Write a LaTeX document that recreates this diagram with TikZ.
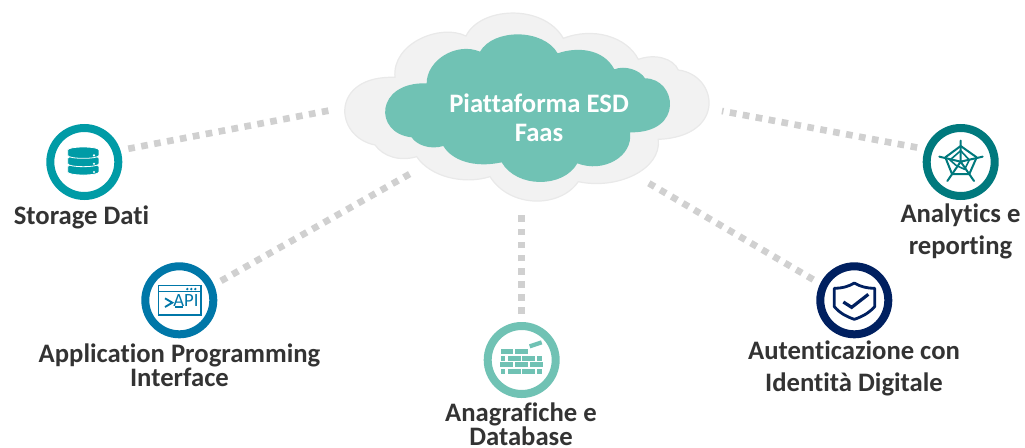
\documentclass[tikz,border=0pt]{standalone}
\usepackage{fontspec}
\setmainfont[Ligatures=NoCommon]{Carlito}
\usetikzlibrary{positioning}
\definecolor{cloudteal}{HTML}{70C2B4}
\definecolor{cloudgray}{HTML}{F2F2F2}
\definecolor{cloudedge}{HTML}{E9E9E9}
\definecolor{linkgray}{HTML}{D0D0D0}
\definecolor{captiongray}{HTML}{333333}
\definecolor{storecol}{HTML}{009BA6}
\definecolor{apicol}{HTML}{0077A8}
\definecolor{analycol}{HTML}{00797D}
\definecolor{authcol}{HTML}{002060}

\begin{document}
\begin{tikzpicture}[x=0.75pt,y=-0.75pt,
  ring/.style={circle,draw=#1,line width=6pt,fill=white,minimum size=51pt,inner sep=0pt},
  caption/.style={font=\fontsize{20pt}{18pt}\selectfont\bfseries,text=captiongray,align=center,inner sep=0pt},
  link/.style={linkgray,line width=5pt,dash pattern=on 5pt off 4.85pt,shorten <=6pt}]
  \useasboundingbox (0,0) rectangle (1025,447);

  % cloud
  \begin{scope}[shift={(330,0)},scale=1/3]
    \path[fill=cloudgray,draw=cloudedge,line width=0.9pt]
      (195,232) .. controls (185,130) and (330,70) .. (408,108)
      .. controls (450,20) and (640,10) .. (700,115)
      .. controls (790,80) and (890,110) .. (925,178)
      .. controls (975,160) and (1030,175) .. (1045,210)
      .. controls (1165,225) and (1190,410) .. (985,418)
      .. controls (995,510) and (860,570) .. (745,545)
      .. controls (690,625) and (540,625) .. (480,530)
      .. controls (400,555) and (300,530) .. (260,470)
      .. controls (210,485) and (160,470) .. (135,435)
      .. controls (10,410) and (0,225) .. (195,232) -- cycle;
    \path[fill=cloudteal]
      (290,250) .. controls (290,180) and (380,125) .. (450,155)
      .. controls (490,85) and (640,85) .. (683,160)
      .. controls (740,140) and (820,145) .. (853,208)
      .. controls (885,195) and (930,210) .. (945,235)
      .. controls (1040,235) and (1065,400) .. (900,397)
      .. controls (910,470) and (820,520) .. (742,490)
      .. controls (700,565) and (560,565) .. (515,487)
      .. controls (430,505) and (365,480) .. (340,438)
      .. controls (300,450) and (260,435) .. (245,412)
      .. controls (130,400) and (135,245) .. (290,250) -- cycle;
  \end{scope}
  \node[caption,text=white] (faas) at (539,117.5) {Piattaforma ESD\\[3.75pt]Faas};

  \node[ring=storecol] (store) at (84.3,162) {};
  \node[ring=apicol] (api) at (179.3,300.3) {};
  \node[ring=cloudteal] (db) at (521.7,360) {};
  \node[ring=authcol] (auth) at (854.3,300.3) {};
  \node[ring=analycol] (analytics) at (960.7,162) {};

  \node[caption] (storetext) at (81.5,217.5) {Storage Dati};
  \node[caption] (apitext) at (179.5,365) {Application Programming\\Interface};
  \node[caption] (dbtext) at (521,424) {Anagrafiche e\\Database};
  \node[caption] (authtext) at (854,368) {Autenticazione con\\[6pt]Identità Digitale};
  \node[caption] (analyticstext) at (960.5,231) {Analytics e\\[6pt]reporting};

  \coordinate (cloudstore) at (332,110);
  \coordinate (cloudapi) at (415,171);
  \coordinate (clouddb) at (521.7,210);
  \coordinate (cloudauth) at (645,181);
  \coordinate (cloudanalytics) at (722,111);

  \draw[link] (store.18) -- (cloudstore);
  \draw[link] (api.24) -- (cloudapi);
  \draw[link] (db.north) -- (clouddb);
  \draw[link] (auth.154) -- (cloudauth);
  \draw[link] (analytics.160) -- (cloudanalytics);

  % storage icon
  \begin{scope}[shift={(30,110)},scale=1/3]
    \foreach \y in {170,145,120} {
      \path[fill=storecol,draw=white,line width=0.6pt]
        (113,\y) -- (113,\y+16) .. controls (113,\y+28) and (207,\y+28) .. (207,\y+16)
        -- (207,\y) .. controls (207,\y-12) and (113,\y-12) .. (113,\y) -- cycle;
      \fill[white] (192,\y+16) circle (3.5);
    }
  \end{scope}

  % api icon
  \begin{scope}[shift={(30,110)},scale=1/3]
    \draw[apicol,line width=1.2pt] (385,527) rectangle (513,615) (385,545) -- (513,545);
    \foreach \x in {472,484,496} \fill[apicol] (\x,537) circle (4);
    \draw[apicol,line width=1.4pt] (405,565) -- (427,578) -- (405,591);
    \draw[apicol,line width=1.3pt] (434,592) -- (460,592);
    \node[font=\fontsize{14pt}{14pt}\selectfont,text=apicol,inner sep=0pt] (apiword) at (468,571) {API};
  \end{scope}

  % brick icon
  \begin{scope}[shift={(470,310)},scale=1/3]
    \foreach \xa/\ya/\xb in {92/118/130,135/118/174,
        92/138/106,113/138/153,156/138/195,202/138/217,
        90/157/130,136/157/174,180/157/219,
        92/177/106,113/177/153,156/177/195,202/177/217}
      \fill[cloudteal] (\xa,\ya) rectangle (\xb,\ya+14);
    \fill[cloudteal] (177,103) -- (213,91) -- (217,103) -- (181,115) -- cycle;
  \end{scope}

  % radar icon
  \begin{scope}[shift={(800,110)},scale=1/3]
    \draw[analycol,line width=1.5pt,line join=round]
      (482,108) -- (530,142) -- (508,192) -- (456,192) -- (436,142) -- cycle;
    \draw[analycol,line width=1.5pt,line cap=round]
      (482,155) -- (482,92) (482,155) -- (548,140) (482,155) -- (522,213)
      (482,155) -- (442,213) (482,155) -- (418,140);
    \draw[analycol,line width=1.2pt,line join=round]
      (482,122) -- (508,150) -- (494,178) -- (468,166) -- (450,150) -- cycle;
  \end{scope}

  % shield icon
  \begin{scope}[shift={(800,110)},scale=1/3]
    \draw[authcol,line width=2.1pt,line join=round]
      (163,519) .. controls (145,530) and (125,535) .. (103,535) -- (103,590)
      .. controls (120,610) and (140,620) .. (163,628)
      .. controls (186,620) and (206,610) .. (224,590) -- (224,535)
      .. controls (201,535) and (181,530) .. (163,519) -- cycle;
    \draw[authcol,line width=2.4pt] (130,576) -- (155,592) -- (205,553);
  \end{scope}
\end{tikzpicture}
\end{document}
